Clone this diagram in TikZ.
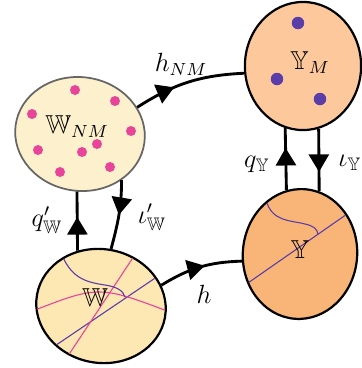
\documentclass[tikz,border=0pt]{standalone}
\usepackage{amsmath,amssymb}
\usetikzlibrary{shapes.geometric,arrows.meta,decorations.markings}
\definecolor{creamA}{HTML}{FDF0CC}
\definecolor{creamB}{HTML}{FDE7B3}
\definecolor{peachA}{HTML}{FDC99C}
\definecolor{peachB}{HTML}{F9B477}
\definecolor{pinkc}{HTML}{E8449A}
\definecolor{purpc}{HTML}{5A3DA8}
\definecolor{rimgray}{HTML}{666666}
\tikzset{
  blob/.style={ellipse, inner sep=0pt, line width=1pt, draw=black},
  conn/.style={line width=1.3pt, black},
  midarrow/.style={decoration={markings, mark=at position #1 with {\arrow{Triangle[length=2.8mm,width=3.2mm]}}}, postaction=decorate},
  midarrow/.default=0.5,
  pdot/.style={fill=pinkc},
  vdot/.style={fill=purpc},
  pline/.style={draw=pinkc, line width=0.5pt},
  vline/.style={draw=purpc, line width=0.5pt},
  lbl/.style={inner sep=0pt, font=\fontsize{11.8}{14}\selectfont}
}
\begin{document}
\begin{tikzpicture}[x=0.016cm,y=-0.016cm]
\useasboundingbox (0,0) rectangle (362,368);
% ellipses
\node[blob, draw=rimgray, line width=0.8pt, fill=creamA, minimum width=2.08cm, minimum height=1.82cm, rotate=-8] (WNM) at (80,134) {};
\node[blob, fill=peachA, minimum width=1.86cm, minimum height=2.05cm] (YM) at (303,66) {};
\node[blob, fill=creamB, minimum width=2.08cm, minimum height=1.82cm, rotate=-10] (W) at (101,306) {};
\node[blob, fill=peachB, minimum width=1.83cm, minimum height=2.08cm, rotate=-5] (Y) at (300,254) {};
% dots in W_NM
\foreach \p in {(75,90),(115,101),(32,114),(131,131),(38,150),(97,144),(82,152),(60,172),(110,167)}
  \fill[pdot] \p circle[radius=0.08cm];
% dots in Y_M
\foreach \p in {(298,23),(277,79),(320,99)}
  \fill[vdot] \p circle[radius=0.1cm];
% curves in W
\begin{scope}
\clip[rotate around={-10:(W.center)}] (W.center) ellipse [x radius=1.03cm, y radius=0.9cm];
\draw[vline] (40,356) -- (170,268);
\draw[pline] (140,247) -- (62,365);
\draw[pline] (30,312) .. controls (99,285) .. (175,314);
\draw[vline] (60,250) .. controls (70,278) and (85,282) .. (105,285) .. controls (118,287) and (123,291) .. (125,297);
\end{scope}
% curves in Y
\begin{scope}
\clip[rotate around={-5:(Y.center)}] (Y.center) ellipse [x radius=0.905cm, y radius=1.03cm];
\draw[vline] (235,292) -- (360,205);
\draw[vline] (266,200) .. controls (272,222) and (290,220) .. (305,224) .. controls (314,226) and (317,229) .. (318,234);
\end{scope}
% labels in ellipses
\node[lbl] (tWNM) at (77,127) {$\mathbb{W}_{NM}$};
\node[lbl] (tYM) at (310,63) {$\mathbb{Y}_{M}$};
\node[lbl] (tW) at (95,298) {$\mathbb{W}$};
\node[lbl] (tY) at (300,250) {$\mathbb{Y}$};
% connectors
\draw[conn, midarrow=0.37] (WNM.33) to[bend left=15] (YM.187);
\draw[conn, midarrow=0.56] (W.29) to[bend left=15] (Y.192.6);
\draw[conn, midarrow=0.57] (W.123) -- (WNM.-85);
\draw[conn, midarrow=0.5] (WNM.-40) to[out=-90,in=75] (W.90);
\draw[conn, midarrow=0.68] (Y.107) -- (YM.-106);
\draw[conn, midarrow=0.69] (YM.-76) -- (Y.78.7);
% connector labels
\node[lbl] (lhNM) at (181,64) {$h_{NM}$};
\node[lbl] (lh) at (204,294) {$h$};
\node[lbl] (lqW) at (47,220) {$q'_{\mathbb{W}}$};
\node[lbl] (liW) at (152,217) {$\iota'_{\mathbb{W}}$};
\node[lbl] (lqY) at (257,164) {$q_{\mathbb{Y}}$};
\node[lbl] (liY) at (350,163) {$\iota_{\mathbb{Y}}$};
\end{tikzpicture}
\end{document}
